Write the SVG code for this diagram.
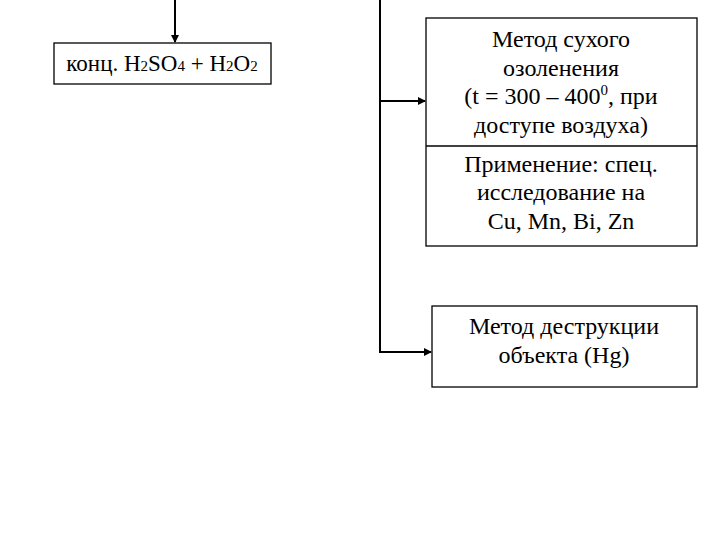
<svg xmlns="http://www.w3.org/2000/svg" width="720" height="540" viewBox="0 0 720 540">
<style>
.b{fill:#fff;stroke:#000;stroke-width:1.3}
.t{font-family:"Liberation Serif",serif;font-size:24px;text-anchor:middle;fill:#000}
.c{fill:none;stroke:#000;stroke-width:2}
</style>
<defs><marker id="a" markerWidth="8" markerHeight="8" refX="7" refY="4" orient="auto" markerUnits="userSpaceOnUse"><path d="M0,0L8,4L0,8z"/></marker></defs>
<rect width="720" height="540" fill="#fff"/>
<g id="connectors">
<line class="c" x1="175" y1="0" x2="175" y2="42" marker-end="url(#a)"/>
<polyline class="c" points="380,0 380,352"/>
<line class="c" x1="379" y1="101" x2="425" y2="101" marker-end="url(#a)"/>
<line class="c" x1="379" y1="352" x2="431" y2="352" marker-end="url(#a)"/>
</g>
<g id="n1"><rect class="b" x="54" y="43" width="217" height="41"/>
<text class="t" x="162" y="71" style="font-size:23px">конц. H<tspan style="font-size:15px">2</tspan>SO<tspan style="font-size:15px">4</tspan> + H<tspan style="font-size:15px">2</tspan>O<tspan style="font-size:15px">2</tspan></text></g>
<g id="n2"><rect class="b" x="426" y="18" width="271" height="228"/>
<line x1="426" y1="146" x2="697" y2="146" stroke="#000" stroke-width="1.3"/>
<text class="t" x="561" y="47">Метод сухого</text>
<text class="t" x="561" y="76">озоленения</text>
<text class="t" x="561" y="104">(t = 300 – 400<tspan dy="-9" style="font-size:15px">0</tspan><tspan dy="9">, при</tspan></text>
<text class="t" x="561" y="133">доступе воздуха)</text>
<text class="t" x="561" y="172">Применение: спец.</text>
<text class="t" x="561" y="200">исследование на</text>
<text class="t" x="561" y="229">Cu, Mn, Bi, Zn</text></g>
<g id="n3"><rect class="b" x="432" y="306" width="265" height="81"/>
<text class="t" x="564" y="334">Метод деструкции</text>
<text class="t" x="564" y="363">объекта (Hg)</text></g>
</svg>
